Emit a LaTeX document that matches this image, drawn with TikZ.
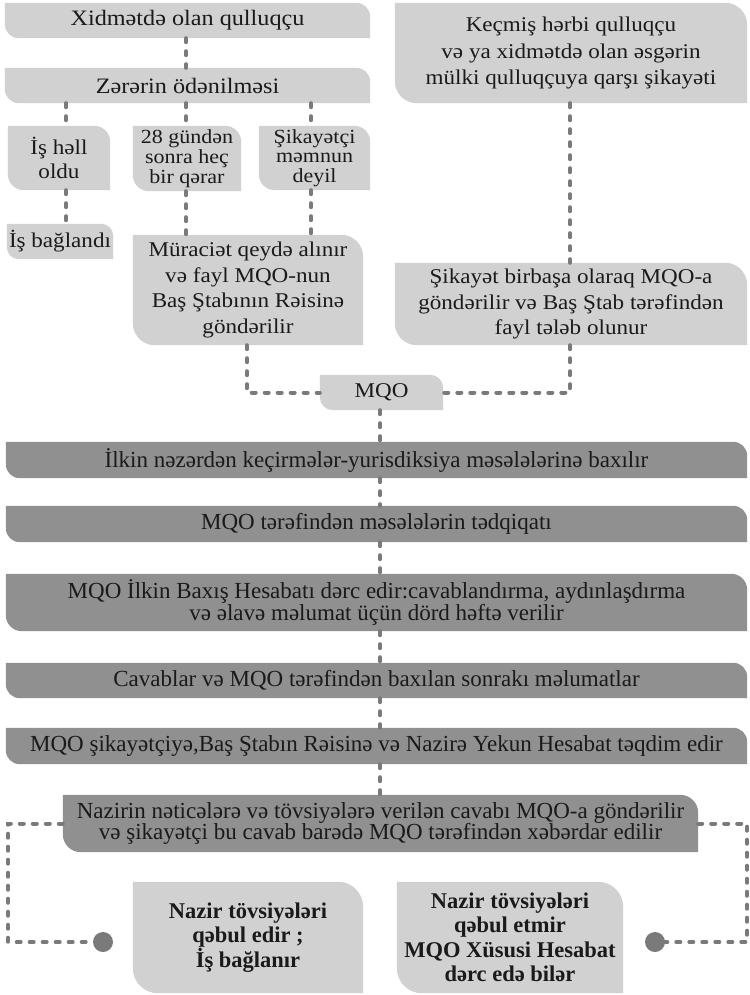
\documentclass[tikz,border=0pt]{standalone}
\usepackage{fontspec}
\setmainfont{Liberation Serif}
\newfontfamily\lightfont[FakeStretch=1.1]{Liberation Serif}
\usetikzlibrary{backgrounds}
\definecolor{lightbox}{HTML}{D1D1D1}
\definecolor{darkbox}{HTML}{909090}
\definecolor{connclr}{HTML}{7A7A7A}
\definecolor{ink}{HTML}{1A1A1A}
\newcommand{\leafbox}[3]{%
  \fill[#2] (#1.north west) -- ([xshift=-#3]#1.north east)
    arc[start angle=90,end angle=0,radius=#3] -- (#1.south east)
    -- ([xshift=#3]#1.south west) arc[start angle=270,end angle=180,radius=#3] -- cycle;}
\tikzset{
  box/.style={inner sep=0pt, align=center, text=ink},
  fA/.style={font=\lightfont\fontsize{22}{25}\selectfont},
  fB/.style={font=\lightfont\fontsize{21}{25.5}\selectfont},
  fK/.style={font=\lightfont\fontsize{21}{26.5}\selectfont},
  fH/.style={font=\lightfont\fontsize{21}{23.5}\selectfont},
  fS/.style={font=\lightfont\fontsize{20}{19.7}\selectfont},
  fD/.style={font=\fontsize{23}{21.7}\selectfont},
  fX/.style={font=\bfseries\fontsize{22.5}{24.5}\selectfont},
  flow/.style={draw=connclr, line width=4pt, line cap=round, dash pattern=on 4pt off 9pt},
  enddot/.style={circle, fill=connclr, minimum size=20pt, inner sep=0pt}
}
\begin{document}
\begin{tikzpicture}[x=1pt,y=1pt]
\useasboundingbox (0,0) rectangle (749,-995);
% column coordinates
\coordinate (colA) at (66,0);
\coordinate (colB) at (186,0);
\coordinate (colC) at (311,0);
\coordinate (colM) at (247,0);
\coordinate (colR) at (570,0);
\coordinate (colD) at (380,0);
\coordinate (lcorner) at (8,-942);
\coordinate (rcorner) at (747,-942);
% top-left column
\node[box,fA,minimum width=365pt,minimum height=35pt] (xid) at (187.5,-20.5) {Xidmətdə olan qulluqçu};
\node[box,fA,minimum width=365pt,minimum height=35pt] (zer) at (187.5,-85.5) {Zərərin ödənilməsi};
\node[box,fH,minimum width=102pt,minimum height=64pt] (hell) at (59,-158) {İş həll\\oldu};
\node[box,fS,minimum width=108pt,minimum height=65pt] (gun) at (187,-158.5) {28 gündən\\sonra heç\\bir qərar};
\node[box,fS,minimum width=111pt,minimum height=64pt] (sik) at (314.5,-158) {Şikayətçi\\məmnun\\deyil};
\node[box,fB,minimum width=106pt,minimum height=35pt] (bag) at (60,-241.5) {İş bağlandı};
\node[box,fB,minimum width=230pt,minimum height=110pt] (mur) at (248,-290) {Müraciət qeydə alınır\\və fayl MQO-nun\\Baş Ştabının Rəisinə\\göndərilir};
% top-right column
\node[box,fK,minimum width=352pt,minimum height=100pt] (kec) at (571,-53) {Keçmiş hərbi qulluqçu\\və ya xidmətdə olan əsgərin\\mülki qulluqçuya qarşı şikayəti};
\node[box,fB,minimum width=352pt,minimum height=82pt] (sikb) at (571,-304) {Şikayət birbaşa olaraq MQO-a\\göndərilir və Baş Ştab tərəfindən\\fayl tələb olunur};
\node[box,fB,minimum width=123pt,minimum height=35pt] (mqo) at (381.5,-392.5) {MQO};
% dark chain
\node[box,fD,minimum width=741pt,minimum height=36pt] (d1) at (376.5,-460) {İlkin nəzərdən keçirmələr-yurisdiksiya məsələlərinə baxılır};
\node[box,fD,minimum width=741pt,minimum height=36pt] (d2) at (376.5,-524) {MQO tərəfindən məsələlərin tədqiqatı};
\node[box,fD,minimum width=741pt,minimum height=57pt] (d3) at (376.5,-602.5) {MQO İlkin Baxış Hesabatı dərc edir:cavablandırma, aydınlaşdırma\\və əlavə məlumat üçün dörd həftə verilir};
\node[box,fD,minimum width=741pt,minimum height=35pt] (d4) at (376.5,-680.5) {Cavablar və MQO tərəfindən baxılan sonrakı məlumatlar};
\node[box,fD,minimum width=741pt,minimum height=36pt] (d5) at (376.5,-746) {MQO şikayətçiyə,Baş Ştabın Rəisinə və Nazirə Yekun Hesabat təqdim edir};
\node[box,fD,minimum width=635pt,minimum height=57pt] (d6) at (380.5,-823.5) {Nazirin nəticələrə və tövsiyələrə verilən cavabı MQO-a göndərilir\\və şikayətçi bu cavab barədə MQO tərəfindən xəbərdar edilir};
% outcomes
\node[box,fX,minimum width=230pt,minimum height=111pt] (acc) at (248,-937.5) {Nazir tövsiyələri\\qəbul edir ;\\İş bağlanır};
\node[box,fX,minimum width=226pt,minimum height=111pt] (rej) at (510,-937.5) {Nazir tövsiyələri\\qəbul etmir\\MQO Xüsusi Hesabat\\dərc edə bilər};
\node[enddot] (ldot) at (103,-942) {};
\node[enddot] (rdot) at (655,-942) {};
\begin{scope}[on background layer]
  \leafbox{xid}{lightbox}{14pt}
  \leafbox{zer}{lightbox}{14pt}
  \leafbox{hell}{lightbox}{16pt}
  \leafbox{gun}{lightbox}{16pt}
  \leafbox{sik}{lightbox}{16pt}
  \leafbox{bag}{lightbox}{12pt}
  \leafbox{mur}{lightbox}{22pt}
  \leafbox{kec}{lightbox}{22pt}
  \leafbox{sikb}{lightbox}{22pt}
  \leafbox{mqo}{lightbox}{13pt}
  \leafbox{d1}{darkbox}{14pt}
  \leafbox{d2}{darkbox}{14pt}
  \leafbox{d3}{darkbox}{16pt}
  \leafbox{d4}{darkbox}{14pt}
  \leafbox{d5}{darkbox}{14pt}
  \leafbox{d6}{darkbox}{18pt}
  \leafbox{acc}{lightbox}{25pt}
  \leafbox{rej}{lightbox}{25pt}
  % connectors
  \draw[flow] (xid.south -| colB) -- (zer.north -| colB);
  \draw[flow] (zer.south -| colA) -- (hell.north -| colA);
  \draw[flow] (zer.south -| colB) -- (gun.north -| colB);
  \draw[flow] (zer.south -| colC) -- (sik.north -| colC);
  \draw[flow] (hell.south -| colA) -- (bag.north -| colA);
  \draw[flow] (gun.south -| colB) -- (mur.north -| colB);
  \draw[flow] (sik.south -| colC) -- (mur.north -| colC);
  \draw[flow] (kec.south -| colR) -- (sikb.north -| colR);
  \draw[flow] (mur.south -| colM) |- (mqo.west);
  \draw[flow] (sikb.south -| colR) |- (mqo.east);
  \draw[flow] (mqo.south -| colD) -- (d1.north -| colD);
  \draw[flow] (d1.south -| colD) -- (d2.north -| colD);
  \draw[flow] (d2.south -| colD) -- (d3.north -| colD);
  \draw[flow] (d3.south -| colD) -- (d4.north -| colD);
  \draw[flow] (d4.south -| colD) -- (d5.north -| colD);
  \draw[flow] (d5.south -| colD) -- (d6.north -| colD);
  \draw[flow] (d6.west) -| (lcorner) -- (ldot);
  \draw[flow] (d6.east) -| (rcorner) -- (rdot);
\end{scope}
\end{tikzpicture}
\end{document}
